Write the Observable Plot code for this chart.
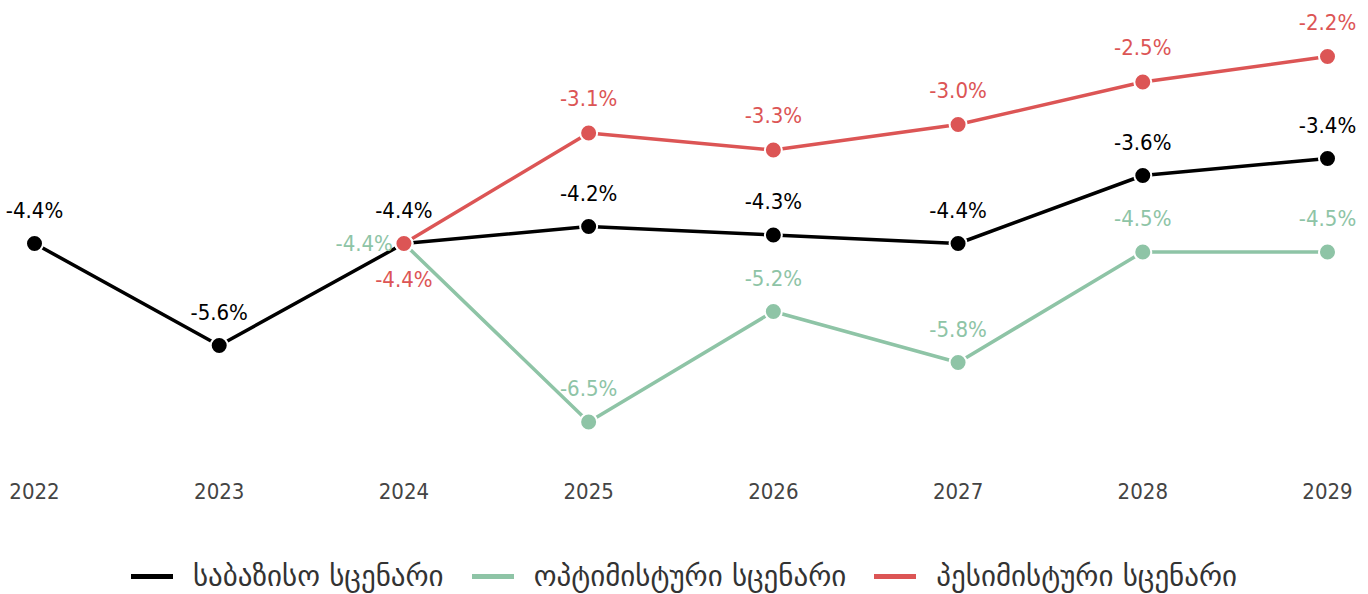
<!DOCTYPE html>
<html>
<head>
<meta charset="utf-8">
<script src="https://cdn.jsdelivr.net/npm/d3@7"></script>
<script src="https://cdn.jsdelivr.net/npm/@observablehq/plot@0.6"></script>
<style>
  html, body { margin: 0; padding: 0; background: #fff; }
  #chart { width: 1368px; }
  #chart svg text { font-stretch: condensed; }
  .legend { display: flex; justify-content: center; align-items: center; margin-top: 31px;
    font-family: "DejaVu Sans", sans-serif; font-size: 29px; color: #333; }
  .legend .item { display: flex; align-items: center; margin: 0 14px; }
  .legend .sw { width: 42px; height: 5px; margin-right: 20px; }
</style>
</head>
<body>
<div id="chart"></div>
<script>
const years = [2022, 2023, 2024, 2025, 2026, 2027, 2028, 2029];
const baseline = [-4.4, -5.6, -4.4, -4.2, -4.3, -4.4, -3.6, -3.4];
const scenarioYears = [2024, 2025, 2026, 2027, 2028, 2029];
const optimistic = [-4.4, -6.5, -5.2, -5.8, -4.5, -4.5];
const pessimistic = [-4.4, -3.1, -3.3, -3.0, -2.5, -2.2];
const seriesNames = ["საბაზისო სცენარი", "ოპტიმისტური სცენარი", "პესიმისტური სცენარი"];
const seriesColors = ["#000000", "#8ec4a6", "#dc5555"];

const rows = [];
years.forEach((y, i) => rows.push({year: y, value: baseline[i], series: seriesNames[0]}));
scenarioYears.forEach((y, i) => rows.push({year: y, value: optimistic[i], series: seriesNames[1]}));
scenarioYears.forEach((y, i) => rows.push({year: y, value: pessimistic[i], series: seriesNames[2]}));

const fmt = v => v.toFixed(1) + "%";
const byS = s => rows.filter(d => d.series === s);
const font = '"DejaVu Sans Condensed", "DejaVu Sans", sans-serif';
const fs = 22;

function labelMarks(s, color) {
  const data = byS(s);
  if (s === seriesNames[1]) {
    return [
      Plot.text(data.filter(d => d.year !== 2024), {x: "year", y: "value", text: d => fmt(d.value), dy: -33, fill: color, fontSize: fs}),
      Plot.text(data.filter(d => d.year === 2024), {x: "year", y: "value", text: d => fmt(d.value), dx: -11, textAnchor: "end", fill: color, fontSize: fs})
    ];
  }
  if (s === seriesNames[2]) {
    return [
      Plot.text(data.filter(d => d.year !== 2024), {x: "year", y: "value", text: d => fmt(d.value), dy: -34, fill: color, fontSize: fs}),
      Plot.text(data.filter(d => d.year === 2024), {x: "year", y: "value", text: d => fmt(d.value), dy: 36, fill: color, fontSize: fs})
    ];
  }
  return [Plot.text(data, {x: "year", y: "value", text: d => fmt(d.value), dy: -33, fill: color, fontSize: fs})];
}

const chart = Plot.plot({
  width: 1368,
  height: 528,
  marginLeft: 34,
  marginRight: 41,
  marginTop: 0,
  marginBottom: 56,
  style: {fontFamily: font, background: "#fff"},
  x: {domain: [2022, 2029], ticks: years, tickFormat: d => String(d), label: null},
  y: {domain: [-7, -2], range: [464, 39], axis: null},
  marks: [
    Plot.axisX({ticks: years, tickFormat: d => String(d), tickSize: 0, tickPadding: 11, fontSize: fs, fill: "#444", label: null}),
    Plot.line(byS(seriesNames[0]), {x: "year", y: "value", stroke: seriesColors[0], strokeWidth: 3.5}),
    Plot.line(byS(seriesNames[1]), {x: "year", y: "value", stroke: seriesColors[1], strokeWidth: 3.5}),
    Plot.line(byS(seriesNames[2]), {x: "year", y: "value", stroke: seriesColors[2], strokeWidth: 3.5}),
    Plot.dot(byS(seriesNames[0]), {x: "year", y: "value", r: 8.5, fill: seriesColors[0], stroke: "#fff", strokeWidth: 2}),
    Plot.dot(byS(seriesNames[1]), {x: "year", y: "value", r: 8.5, fill: seriesColors[1], stroke: "#fff", strokeWidth: 2}),
    Plot.dot(byS(seriesNames[2]), {x: "year", y: "value", r: 8.5, fill: seriesColors[2], stroke: "#fff", strokeWidth: 2}),
    ...labelMarks(seriesNames[0], seriesColors[0]),
    ...labelMarks(seriesNames[1], seriesColors[1]),
    ...labelMarks(seriesNames[2], seriesColors[2])
  ]
});
document.getElementById("chart").appendChild(chart);

const legend = document.createElement("div");
legend.className = "legend";
seriesNames.forEach((n, i) => {
  const item = document.createElement("div");
  item.className = "item";
  const sw = document.createElement("span");
  sw.className = "sw";
  sw.style.background = seriesColors[i];
  const t = document.createElement("span");
  t.textContent = n;
  item.appendChild(sw);
  item.appendChild(t);
  legend.appendChild(item);
});
document.getElementById("chart").appendChild(legend);
</script>
</body>
</html>
